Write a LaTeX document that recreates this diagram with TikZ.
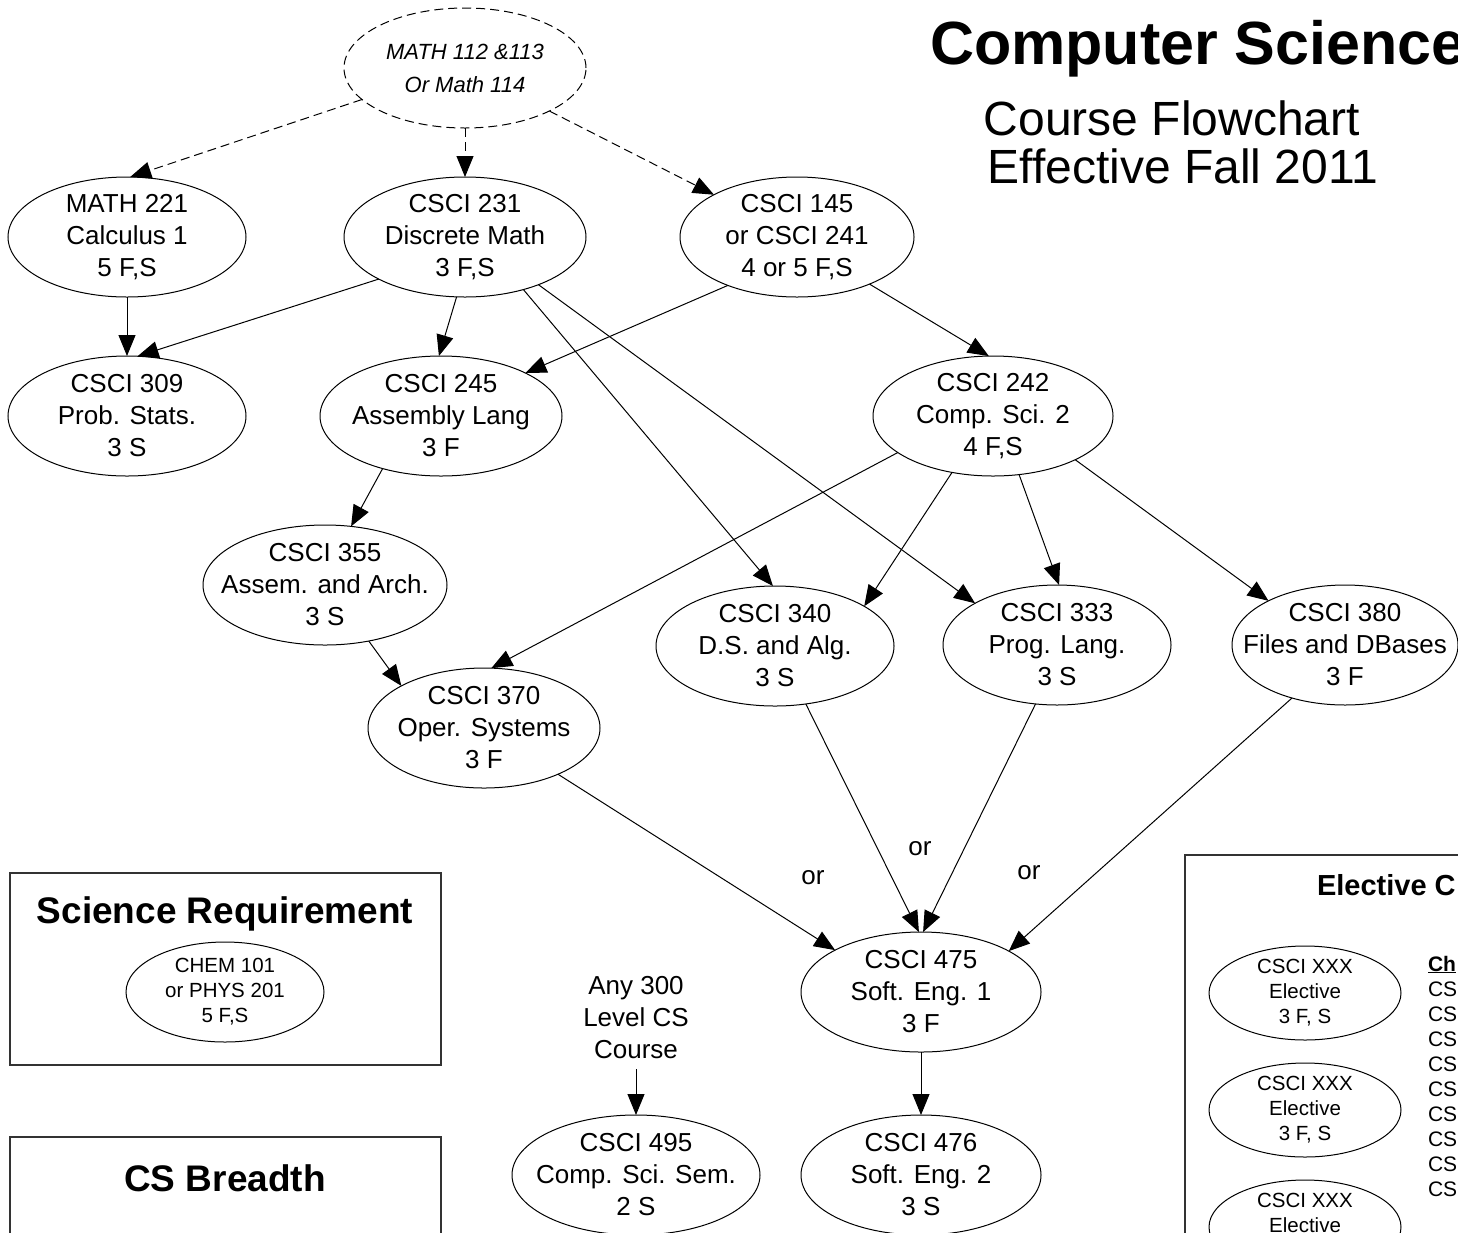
\documentclass[tikz,border=0pt]{standalone}
\usepackage{fontspec}
\setmainfont{Liberation Sans}
\usetikzlibrary{shapes.geometric, arrows.meta}
\begin{document}
\begin{tikzpicture}[x=1pt, y=-1pt,
  every node/.style={inner sep=0pt, outer sep=0pt},
  crs/.style={ellipse, draw=black, line width=1pt, minimum width=240pt, minimum height=120pt},
  ctext/.style={font=\fontsize{26}{32}\selectfont, align=center},
  stext/.style={font=\fontsize{20.5}{25}\selectfont, align=center},
  itext/.style={font=\itshape\fontsize{22}{33}\selectfont, align=center},
  link/.style={line width=1pt, -{Triangle[length=21pt,width=17pt]}},
  dlink/.style={link, dash pattern=on 9pt off 5pt},
  ortext/.style={font=\fontsize{26}{32}\selectfont},
  boxtitle/.style={font=\bfseries\fontsize{37}{44}\selectfont},
  listtext/.style={font=\fontsize{21}{25}\selectfont},
  frame/.style={draw=black!80, line width=1.2pt},
]
\useasboundingbox (0,0) rectangle (1458,1232);
\clip (0,0) rectangle (1458,1232);
\fill[white] (0,0) rectangle (1458,1232);

% titles
\node[anchor=base west, font=\bfseries\fontsize{61}{72}\selectfont] (title) at (930,64) {Computer Science};
\node[anchor=base, font=\fontsize{48}{56}\selectfont] (sub1) at (1172,135) {Course Flowchart};
\node[anchor=base, font=\fontsize{48}{56}\selectfont] (sub2) at (1183,183) {Effective Fall 2011};

% courses
\node[crs, dash pattern=on 9pt off 5pt, minimum width=242pt, label={[itext]center:MATH 112 \&113\\Or Math 114}] (m112) at (465,68) {};
\node[crs, minimum width=238pt, label={[ctext]center:MATH 221\\Calculus 1\\5 F,S}] (m221) at (127,237) {};
\node[crs, minimum width=242pt, label={[ctext]center:CSCI 231\\Discrete Math\\3 F,S}] (c231) at (465,237) {};
\node[crs, minimum width=234pt, label={[ctext]center:CSCI 145\\or CSCI 241\\4 or 5 F,S}] (c145) at (797,237) {};
\node[crs, minimum width=238pt, label={[ctext]center:CSCI 309\\Prob. Stats.\\3 S}] (c309) at (127,416) {};
\node[crs, minimum width=242pt, label={[ctext]center:CSCI 245\\Assembly Lang\\3 F}] (c245) at (441,416) {};
\node[crs, minimum width=240pt, label={[ctext]center:CSCI 242\\Comp. Sci. 2\\4 F,S}] (c242) at (993,416) {};
\node[crs, minimum width=244pt, label={[ctext]center:CSCI 355\\Assem. and Arch.\\3 S}] (c355) at (325,585) {};
\node[crs, minimum width=238pt, label={[ctext]center:CSCI 340\\D.S. and Alg.\\3 S}] (c340) at (775,646) {};
\node[crs, minimum width=228pt, label={[ctext]center:CSCI 333\\Prog. Lang.\\3 S}] (c333) at (1057,645) {};
\node[crs, minimum width=226pt, label={[ctext]center:CSCI 380\\Files and DBases\\3 F}] (c380) at (1345,645) {};
\node[crs, minimum width=232pt, label={[ctext]center:CSCI 370\\Oper. Systems\\3 F}] (c370) at (484,728) {};
\node[crs, minimum width=240pt, label={[ctext]center:CSCI 475\\Soft. Eng. 1\\3 F}] (c475) at (921,992) {};
\node[crs, minimum width=240pt, label={[ctext]center:CSCI 476\\Soft. Eng. 2\\3 S}] (c476) at (921,1175) {};
\node[crs, minimum width=248pt, label={[ctext]center:CSCI 495\\Comp. Sci. Sem.\\2 S}] (c495) at (636,1175) {};
\node[ctext] (any) at (636,1018) {Any 300\\Level CS\\Course};

% or labels
\node[ortext] (or1) at (813,878) {or};
\node[ortext] (or2) at (920,849) {or};
\node[ortext] (or3) at (1029,873) {or};

% connectors
\draw[dlink] (m112.197) -- (m221.87);
\draw[dlink] (m112.south) -- (c231.north);
\draw[dlink] (m112.333) -- (c145.153);
\draw[link] (m221.south) -- (c309.north);
\draw[link] (c231.206) -- (c309.80);
\draw[link] (c231.262) -- (c245.92);
\draw[link] (c145.215) -- (c245.27);
\draw[link] (c145.327) -- (c242.94);
\draw[link] (c231.318) -- (c340.92);
\draw[link] (c231.327) -- (c333.153);
\draw[link] (c245.222) -- (c355.66);
\draw[link] (c355.308) -- (c370.153);
\draw[link] (c242.201) -- (c370.83);
\draw[link] (c242.234) -- (c340.24);
\draw[link] (c242.294) -- (c333.88);
\draw[link] (c242.332) -- (c380.150);
\draw[link] (c370.328) -- (c475.154);
\draw[link] (c340.298) -- (c475.92);
\draw[link] (c333.250) -- (c475.88);
\draw[link] (c380.225) -- (c475.25);
\draw[link] (c475.south) -- (c476.north);
\draw[link, shorten <=10pt] (any.south) -- (c495.north);

% science requirement box
\draw[frame] (10,873) rectangle (441,1065);
\node[boxtitle] (scit) at (225,914) {Science Requirement};
\node[crs, minimum width=198pt, minimum height=100pt, label={[stext]center:CHEM 101\\or PHYS 201\\5 F,S}] (chem) at (225,992) {};

% CS breadth box
\draw[frame] (10,1137) rectangle (441,1260);
\node[boxtitle] (brt) at (225,1178) {CS Breadth};

% elective box
\draw[frame] (1185,855) rectangle (1520,1300);
\node[anchor=base west, font=\bfseries\fontsize{29}{35}\selectfont] (elt) at (1317,895) {Elective C};
\node[crs, minimum width=192pt, minimum height=94pt, label={[stext]center:CSCI XXX\\Elective\\3 F, S}] (e1) at (1305,993) {};
\node[crs, minimum width=192pt, minimum height=94pt, label={[stext]center:CSCI XXX\\Elective\\3 F, S}] (e2) at (1305,1110) {};
\node[crs, minimum width=192pt, minimum height=94pt, label={[stext]center:CSCI XXX\\Elective\\3 F, S}] (e3) at (1305,1227) {};
\node[listtext, anchor=base west] (lh) at (1428,971) {\underline{\textbf{Ch}}};
\foreach \k in {0,...,8} {
  \node[listtext, anchor=base west] (l\k) at (1428,{996.5+25*\k}) {CS};
}
\end{tikzpicture}
\end{document}
